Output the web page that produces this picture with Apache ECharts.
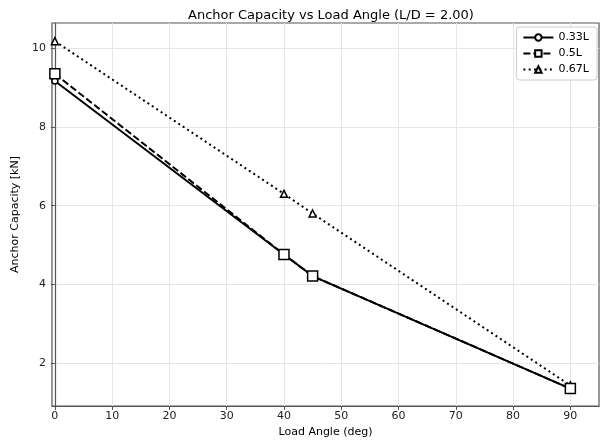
<!DOCTYPE html>
<html>
<head>
<meta charset="utf-8">
<script src="https://cdn.jsdelivr.net/npm/echarts@6/dist/echarts.min.js"></script>
<style>html,body{margin:0;padding:0;background:#fff}#c{width:603px;height:443px}</style>
</head>
<body>
<div id="c"></div>
<script>
const loadAngles = [0, 40, 45, 90];
const cap033 = [9.17, 4.76, 4.21, 1.35];
const cap05 = [9.35, 4.76, 4.21, 1.35];
const cap067 = [10.18, 6.30, 5.80, 1.43];
const xTicks = [0, 10, 20, 30, 40, 50, 60, 70, 80, 90];
const yTicks = [2, 4, 6, 8, 10];
const seriesNames = ['0.33L', '0.5L', '0.67L'];

const font = 'DejaVu Sans';
function pairs(xs, ys) { return xs.map((x, i) => [x, ys[i]]); }

const chart = echarts.init(document.getElementById('c'), null, {renderer: 'canvas'});
const mk = (name, data, symbol, size, type, z) => ({
  name, type: 'line', data: pairs(loadAngles, data), symbol, symbolSize: size,
  z, showAllSymbol: true,
  lineStyle: {color: '#000', width: 2, type},
  itemStyle: {color: '#fff', borderColor: '#000', borderWidth: 1.5},
  emphasis: {disabled: true}, animation: false
});
chart.setOption({
  animation: false,
  textStyle: {fontFamily: font},
  title: {
    text: 'Anchor Capacity vs Load Angle (L/D = 2.00)',
    left: 326, top: 4, textAlign: 'center',
    textStyle: {fontFamily: font, fontSize: 13, fontWeight: 'normal', color: '#000'}
  },
  grid: {left: 52, right: 4, top: 23, bottom: 37, show: true, borderColor: '#555', borderWidth: 1.2, backgroundColor: 'transparent'},
  legend: {
    right: 6, top: 27, orient: 'vertical', itemGap: 5, itemWidth: 30, itemHeight: 8,
    padding: [5, 8, 5, 6],
    backgroundColor: '#fff', borderColor: '#ccc', borderWidth: 1, borderRadius: 3,
    textStyle: {fontFamily: font, fontSize: 11, color: '#000'},
    data: seriesNames
  },
  xAxis: {
    type: 'value', min: -0.5, max: 95,
    name: 'Load Angle (deg)', nameLocation: 'middle', nameGap: 20,
    nameTextStyle: {fontFamily: font, fontSize: 11, color: '#000'},
    axisLine: {show: true, lineStyle: {color: '#555', width: 1.2}},
    axisTick: {show: true, customValues: xTicks, length: 4, lineStyle: {color: '#555'}},
    axisLabel: {customValues: xTicks, fontFamily: font, fontSize: 11, color: '#222', margin: 5},
    splitLine: {show: true, lineStyle: {color: '#e6e6e6', width: 1}}
  },
  yAxis: {
    type: 'value', min: 0.9075, max: 10.6425,
    name: 'Anchor Capacity [kN]', nameLocation: 'middle', nameGap: 27,
    nameTextStyle: {fontFamily: font, fontSize: 11, color: '#000'},
    axisLine: {show: true, lineStyle: {color: '#555', width: 1.2}},
    axisTick: {show: true, customValues: yTicks, length: 4, lineStyle: {color: '#555'}},
    axisLabel: {customValues: yTicks, fontFamily: font, fontSize: 11, color: '#222', margin: 6},
    splitLine: {show: true, lineStyle: {color: '#e6e6e6', width: 1}}
  },
  series: [
    mk(seriesNames[0], cap033, 'circle', 6, 'solid', 3),
    mk(seriesNames[1], cap05, 'rect', 10, [7, 3], 4),
    mk(seriesNames[2], cap067, 'triangle', 7, [2, 3.3], 2)
  ]
});
</script>
</body>
</html>
